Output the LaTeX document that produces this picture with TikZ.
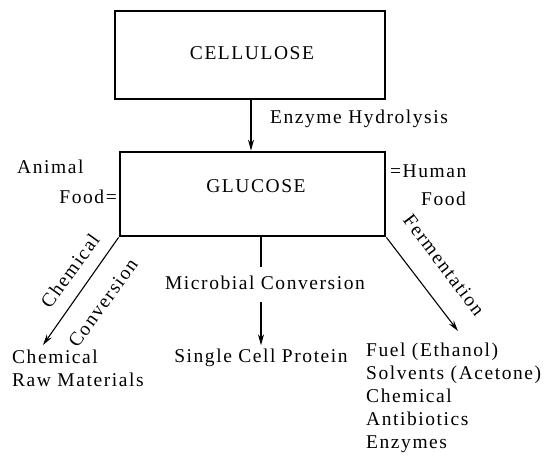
\documentclass[tikz,border=0pt]{standalone}
\usepackage{fontspec}
\setmainfont{Liberation Serif}[LetterSpace=8]
\usetikzlibrary{arrows.meta}
\begin{document}
\begin{tikzpicture}[x=1pt,y=-1pt,
  every node/.style={font=\fontsize{19.5}{22.8}\selectfont, inner sep=0pt},
  box/.style={draw, line width=2.8pt},
  conn/.style={line width=1.1pt, -{Stealth[length=11pt,width=6pt]}},
  seg/.style={line width=1.1pt}]
\useasboundingbox (0,0) rectangle (545,474);
% boxes
\node[box, minimum width=270, minimum height=88] (cell) at (250,55) {};
\node (cellt) at (252,53) {CELLULOSE};
\node[box, minimum width=265, minimum height=84] (glu) at (252.5,194) {};
\node (glut) at (256,186) {GLUCOSE};
% cellulose -> glucose
\draw[conn] ([xshift=1pt]cell.south) -- ([xshift=1pt]cell.south |- glu.north);
\node[anchor=base west] (enz) at (270,123) {Enzyme Hydrolysis};
% side labels
\node[anchor=base west] (anim) at (17,173) {Animal};
\node[anchor=base east] (afood) at (117,203) {Food=};
\node[anchor=base west] (hum) at (390,177) {=Human};
\node[anchor=base west] (hfood) at (421,205) {Food};
% chemical conversion
\coordinate (ctip) at (43,345);
\draw[conn] (glu.south west) -- (ctip);
\node[rotate=54] (chem1) at (70,271) {Chemical};
\node[rotate=54] (chem2) at (103,303) {Conversion};
% microbial conversion
\coordinate (mtop) at (261,236);
\node (mc) at (265,283) {Microbial Conversion};
\node[anchor=base] (scp) at (261,362) {Single Cell Protein};
\draw[seg, shorten >=9pt] (mtop) -- (mtop |- mc.north);
\draw[conn, shorten <=12pt, shorten >=3pt] (mtop |- mc.south) -- (mtop |- scp.north);
% fermentation
\coordinate (ftip) at (458,331);
\draw[conn] (glu.south east) -- (ftip);
\node[rotate=-53] (ferm) at (444,265) {Fermentation};
% products (base anchor = baseline of the last line)
\node[anchor=base west, align=left] (raw) at (12,386) {Chemical\\Raw Materials};
\node[anchor=base west, align=left] (prod) at (366,448) {Fuel (Ethanol)\\Solvents (Acetone)\\Chemical\\Antibiotics\\Enzymes};
\end{tikzpicture}
\end{document}
